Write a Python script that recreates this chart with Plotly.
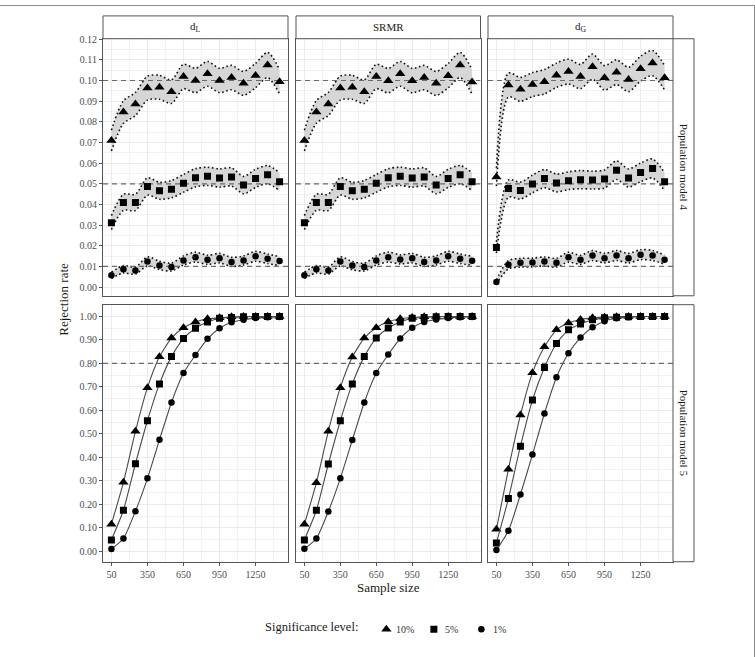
import plotly.graph_objects as go

# ---------------- data ----------------
sample_size = [50, 150, 250, 350, 450, 550, 650, 750, 850, 950, 1050, 1150, 1250, 1350, 1450]
levels = ["10%", "5%", "1%"]
nominal = [0.10, 0.05, 0.01]
power_ref = 0.80
indices = ["d<sub>L</sub>", "SRMR", "d<sub>G</sub>"]
x_ticks = [50, 350, 650, 950, 1250]

# Population model 4 (Type I error rates with confidence bands)
dL_m4_10 = [0.0709, 0.0847, 0.0886, 0.0963, 0.0967, 0.0946, 0.1019, 0.1000, 0.1032, 0.1000, 0.1014, 0.0986, 0.1024, 0.1075, 0.0994]
dL_m4_10_lo = [0.0659, 0.0792, 0.0830, 0.0905, 0.0909, 0.0889, 0.0960, 0.0941, 0.0972, 0.0941, 0.0955, 0.0928, 0.0965, 0.1014, 0.0935]
dL_m4_10_hi = [0.0759, 0.0902, 0.0942, 0.1021, 0.1025, 0.1003, 0.1078, 0.1059, 0.1092, 0.1059, 0.1073, 0.1044, 0.1083, 0.1136, 0.1053]
dL_m4_05 = [0.0312, 0.0410, 0.0410, 0.0487, 0.0466, 0.0474, 0.0502, 0.0529, 0.0536, 0.0528, 0.0533, 0.0494, 0.0526, 0.0544, 0.0510]
dL_m4_05_lo = [0.0278, 0.0371, 0.0371, 0.0445, 0.0425, 0.0432, 0.0459, 0.0485, 0.0492, 0.0484, 0.0489, 0.0452, 0.0482, 0.0500, 0.0467]
dL_m4_05_hi = [0.0346, 0.0449, 0.0449, 0.0529, 0.0507, 0.0516, 0.0545, 0.0573, 0.0580, 0.0572, 0.0577, 0.0536, 0.0570, 0.0588, 0.0553]
dL_m4_01 = [0.0057, 0.0086, 0.0080, 0.0124, 0.0105, 0.0097, 0.0129, 0.0145, 0.0132, 0.0140, 0.0122, 0.0129, 0.0149, 0.0137, 0.0126]
dL_m4_01_lo = [0.0042, 0.0068, 0.0063, 0.0102, 0.0085, 0.0078, 0.0107, 0.0121, 0.0110, 0.0117, 0.0100, 0.0107, 0.0125, 0.0114, 0.0104]
dL_m4_01_hi = [0.0072, 0.0104, 0.0097, 0.0146, 0.0125, 0.0116, 0.0151, 0.0169, 0.0154, 0.0163, 0.0144, 0.0151, 0.0173, 0.0160, 0.0148]

srmr_m4_10 = [0.0709, 0.0848, 0.0886, 0.0963, 0.0967, 0.0946, 0.1019, 0.0999, 0.1032, 0.0999, 0.1014, 0.0986, 0.1023, 0.1075, 0.0993]
srmr_m4_10_lo = [0.0659, 0.0793, 0.0830, 0.0905, 0.0909, 0.0889, 0.0960, 0.0940, 0.0972, 0.0940, 0.0955, 0.0928, 0.0964, 0.1014, 0.0934]
srmr_m4_10_hi = [0.0759, 0.0903, 0.0942, 0.1021, 0.1025, 0.1003, 0.1078, 0.1058, 0.1092, 0.1058, 0.1073, 0.1044, 0.1082, 0.1136, 0.1052]
srmr_m4_05 = [0.0312, 0.0410, 0.0410, 0.0487, 0.0466, 0.0474, 0.0502, 0.0529, 0.0536, 0.0528, 0.0533, 0.0494, 0.0526, 0.0544, 0.0510]
srmr_m4_05_lo = [0.0278, 0.0371, 0.0371, 0.0445, 0.0425, 0.0432, 0.0459, 0.0485, 0.0492, 0.0484, 0.0489, 0.0452, 0.0482, 0.0500, 0.0467]
srmr_m4_05_hi = [0.0346, 0.0449, 0.0449, 0.0529, 0.0507, 0.0516, 0.0545, 0.0573, 0.0580, 0.0572, 0.0577, 0.0536, 0.0570, 0.0588, 0.0553]
srmr_m4_01 = [0.0057, 0.0086, 0.0080, 0.0124, 0.0104, 0.0097, 0.0129, 0.0145, 0.0134, 0.0140, 0.0122, 0.0129, 0.0149, 0.0137, 0.0127]
srmr_m4_01_lo = [0.0042, 0.0068, 0.0063, 0.0102, 0.0084, 0.0078, 0.0107, 0.0121, 0.0112, 0.0117, 0.0100, 0.0107, 0.0125, 0.0114, 0.0105]
srmr_m4_01_hi = [0.0072, 0.0104, 0.0097, 0.0146, 0.0124, 0.0116, 0.0151, 0.0169, 0.0156, 0.0163, 0.0144, 0.0151, 0.0173, 0.0160, 0.0149]

dG_m4_10 = [0.0533, 0.0978, 0.0957, 0.0980, 0.0994, 0.1025, 0.1043, 0.1019, 0.1067, 0.1013, 0.1040, 0.1005, 0.1057, 0.1084, 0.1013]
dG_m4_10_lo = [0.0489, 0.0920, 0.0899, 0.0922, 0.0935, 0.0966, 0.0983, 0.0960, 0.1006, 0.0954, 0.0980, 0.0946, 0.0997, 0.1023, 0.0954]
dG_m4_10_hi = [0.0577, 0.1036, 0.1015, 0.1038, 0.1053, 0.1084, 0.1103, 0.1078, 0.1128, 0.1072, 0.1100, 0.1064, 0.1117, 0.1145, 0.1072]
dG_m4_05 = [0.0192, 0.0477, 0.0467, 0.0499, 0.0525, 0.0504, 0.0515, 0.0520, 0.0518, 0.0523, 0.0566, 0.0528, 0.0555, 0.0574, 0.0510]
dG_m4_05_lo = [0.0165, 0.0435, 0.0426, 0.0456, 0.0481, 0.0461, 0.0472, 0.0476, 0.0475, 0.0479, 0.0521, 0.0484, 0.0510, 0.0528, 0.0467]
dG_m4_05_hi = [0.0219, 0.0519, 0.0508, 0.0542, 0.0569, 0.0547, 0.0558, 0.0564, 0.0561, 0.0567, 0.0611, 0.0572, 0.0600, 0.0620, 0.0553]
dG_m4_01 = [0.0025, 0.0108, 0.0118, 0.0119, 0.0124, 0.0118, 0.0145, 0.0132, 0.0153, 0.0140, 0.0153, 0.0140, 0.0157, 0.0153, 0.0132]
dG_m4_01_lo = [0.0015, 0.0088, 0.0097, 0.0098, 0.0102, 0.0097, 0.0121, 0.0110, 0.0129, 0.0117, 0.0129, 0.0117, 0.0133, 0.0129, 0.0110]
dG_m4_01_hi = [0.0035, 0.0128, 0.0139, 0.0140, 0.0146, 0.0139, 0.0169, 0.0154, 0.0177, 0.0163, 0.0177, 0.0163, 0.0181, 0.0177, 0.0154]

# Population model 5 (power)
dL_m5_10 = [0.116, 0.294, 0.511, 0.697, 0.828, 0.908, 0.952, 0.976, 0.990, 0.994, 0.999, 1.000, 1.000, 1.000, 1.000]
dL_m5_05 = [0.049, 0.175, 0.373, 0.556, 0.713, 0.829, 0.906, 0.950, 0.976, 0.992, 0.996, 0.999, 1.000, 1.000, 1.000]
dL_m5_01 = [0.010, 0.055, 0.171, 0.311, 0.475, 0.634, 0.759, 0.836, 0.905, 0.950, 0.975, 0.986, 0.993, 0.997, 0.998]
srmr_m5_10 = [0.116, 0.292, 0.511, 0.697, 0.827, 0.908, 0.952, 0.977, 0.990, 0.995, 0.999, 1.000, 1.000, 1.000, 1.000]
srmr_m5_05 = [0.049, 0.175, 0.372, 0.556, 0.713, 0.829, 0.908, 0.951, 0.976, 0.992, 0.996, 0.999, 1.000, 1.000, 1.000]
srmr_m5_01 = [0.011, 0.055, 0.170, 0.311, 0.474, 0.634, 0.759, 0.838, 0.906, 0.952, 0.976, 0.987, 0.993, 0.997, 0.998]
dG_m5_10 = [0.094, 0.350, 0.580, 0.760, 0.871, 0.943, 0.972, 0.987, 0.994, 0.997, 0.999, 1.000, 1.000, 1.000, 1.000]
dG_m5_05 = [0.036, 0.225, 0.448, 0.644, 0.783, 0.885, 0.943, 0.968, 0.986, 0.994, 0.997, 0.999, 1.000, 1.000, 1.000]
dG_m5_01 = [0.006, 0.088, 0.242, 0.412, 0.587, 0.741, 0.843, 0.910, 0.954, 0.980, 0.992, 0.997, 0.999, 1.000, 1.000]

m4 = [
    [(dL_m4_10, dL_m4_10_lo, dL_m4_10_hi), (dL_m4_05, dL_m4_05_lo, dL_m4_05_hi), (dL_m4_01, dL_m4_01_lo, dL_m4_01_hi)],
    [(srmr_m4_10, srmr_m4_10_lo, srmr_m4_10_hi), (srmr_m4_05, srmr_m4_05_lo, srmr_m4_05_hi), (srmr_m4_01, srmr_m4_01_lo, srmr_m4_01_hi)],
    [(dG_m4_10, dG_m4_10_lo, dG_m4_10_hi), (dG_m4_05, dG_m4_05_lo, dG_m4_05_hi), (dG_m4_01, dG_m4_01_lo, dG_m4_01_hi)],
]
m5 = [
    [dL_m5_10, dL_m5_05, dL_m5_01],
    [srmr_m5_10, srmr_m5_05, srmr_m5_01],
    [dG_m5_10, dG_m5_05, dG_m5_01],
]

# ---------------- style / layout ----------------
W, H = 755, 657
FONT = "Liberation Serif"
symbols = ["triangle-up", "square", "circle"]
msizes = [9, 7, 6.5]
cols_px = [(103, 288), (296, 480.5), (488, 673)]
rows_px = [(34, 293), (302, 561)]
x_range = [-20, 1520]
y_ranges = [[-0.0042, 0.1202], [-0.044, 1.05]]
legend_label_px = [394, 443, 491]


def px(x):
    return x / W


def py(y):
    return 1 - y / H


fig = go.Figure()


def ax_names(r, c):
    k = r * 3 + c + 1
    return ("x" if k == 1 else f"x{k}"), ("y" if k == 1 else f"y{k}")


for c in range(3):
    # top row: bands + markers
    xa, ya = ax_names(0, c)
    for li, (vals, lo, hi) in enumerate(m4[c]):
        fig.add_trace(go.Scatter(x=sample_size, y=lo, mode="lines", xaxis=xa, yaxis=ya,
                                 line=dict(color="#111", width=1.6, dash="1.6px,2.6px", shape="spline", smoothing=0.8),
                                 showlegend=False, hoverinfo="skip"))
        fig.add_trace(go.Scatter(x=sample_size, y=hi, mode="lines", xaxis=xa, yaxis=ya, fill="tonexty",
                                 fillcolor="#D6D6D6",
                                 line=dict(color="#111", width=1.6, dash="1.6px,2.6px", shape="spline", smoothing=0.8),
                                 showlegend=False, hoverinfo="skip"))
    for lvl in nominal:
        fig.add_trace(go.Scatter(x=x_range, y=[lvl, lvl], mode="lines", xaxis=xa, yaxis=ya,
                                 line=dict(color="#6b6b6b", width=1.2, dash="5px,4px"),
                                 showlegend=False, hoverinfo="skip"))
    for li, (vals, lo, hi) in enumerate(m4[c]):
        fig.add_trace(go.Scatter(x=sample_size, y=vals, mode="markers", xaxis=xa, yaxis=ya,
                                 marker=dict(symbol=symbols[li], size=msizes[li], color="black"),
                                 name=" ", showlegend=(c == 0), legendgroup=levels[li],
                                 hovertemplate=levels[li] + ": %{y}<extra></extra>"))
    # bottom row: power curves
    xa, ya = ax_names(1, c)
    fig.add_trace(go.Scatter(x=x_range, y=[power_ref, power_ref], mode="lines", xaxis=xa, yaxis=ya,
                             line=dict(color="#6b6b6b", width=1.2, dash="5px,4px"),
                             showlegend=False, hoverinfo="skip"))
    for li, vals in enumerate(m5[c]):
        fig.add_trace(go.Scatter(x=sample_size, y=vals, mode="lines+markers", xaxis=xa, yaxis=ya,
                                 line=dict(color="#4a4a4a", width=1.1, shape="spline", smoothing=0.6),
                                 marker=dict(symbol=symbols[li], size=msizes[li], color="black"),
                                 name=levels[li], showlegend=False, legendgroup=levels[li]))

layout = dict(
    width=W, height=H,
    margin=dict(l=0, r=0, t=0, b=0),
    paper_bgcolor="white", plot_bgcolor="white",
    font=dict(family=FONT, color="#1a1a1a"),
    showlegend=True,
    legend=dict(orientation="h", x=px(263), xanchor="left", y=py(629), yanchor="middle",
                title=dict(text="Significance level:", font=dict(size=12.5, family=FONT, color="#1a1a1a"), side="left"),
                font=dict(size=10, family=FONT, color="#333"),
                itemwidth=30, bgcolor="rgba(0,0,0,0)", tracegroupgap=0),
)

for r in range(2):
    for c in range(3):
        k = r * 3 + c + 1
        xkey = "xaxis" if k == 1 else f"xaxis{k}"
        ykey = "yaxis" if k == 1 else f"yaxis{k}"
        x0, x1 = cols_px[c]
        y0, y1 = rows_px[r]
        show_x = r == 1
        show_y = c == 0
        layout[xkey] = dict(
            domain=[px(x0), px(x1)], range=x_range, anchor=ax_names(r, c)[1],
            tickmode="array", tickvals=x_ticks, showticklabels=show_x,
            ticks="outside" if show_x else "", ticklen=3, tickcolor="#555", tickwidth=1,
            tickfont=dict(size=10, color="#4d4d4d", family=FONT),
            showgrid=True, gridcolor="#EBEBEB", gridwidth=1,
            minor=dict(tick0=50, dtick=150, showgrid=True, gridcolor="#F2F2F2", gridwidth=0.6),
            showline=True, mirror=True, linecolor="#555", linewidth=1, zeroline=False,
        )
        ydt, ymdt = (0.01, 0.005) if r == 0 else (0.1, 0.05)
        layout[ykey] = dict(
            domain=[py(y1), py(y0)], range=y_ranges[r], anchor=ax_names(r, c)[0],
            tick0=0, dtick=ydt, tickformat=".2f", showticklabels=show_y,
            ticks="outside" if show_y else "", ticklen=3, tickcolor="#555", tickwidth=1,
            tickfont=dict(size=10, color="#4d4d4d", family=FONT),
            showgrid=True, gridcolor="#EBEBEB", gridwidth=1,
            minor=dict(tick0=0, dtick=ymdt, showgrid=True, gridcolor="#F2F2F2", gridwidth=0.6),
            showline=True, mirror=True, linecolor="#555", linewidth=1, zeroline=False,
        )

shapes = []
annotations = []
# top strips
for c, lab in enumerate(indices):
    x0, x1 = cols_px[c]
    shapes.append(dict(type="rect", xref="paper", yref="paper", x0=px(x0), x1=px(x1), y0=py(34), y1=py(11),
                       fillcolor="white", line=dict(color="#555", width=1)))
    annotations.append(dict(text=lab, xref="paper", yref="paper", x=px((x0 + x1) / 2), y=py(22.5),
                            showarrow=False, font=dict(size=11, family=FONT, color="#1a1a1a"),
                            xanchor="center", yanchor="middle"))
# right strips
for r, lab in enumerate(["Population model 4", "Population model 5"]):
    y0, y1 = rows_px[r]
    shapes.append(dict(type="rect", xref="paper", yref="paper", x0=px(673), x1=px(694), y0=py(y1), y1=py(y0),
                       fillcolor="white", line=dict(color="#555", width=1)))
    annotations.append(dict(text=lab, xref="paper", yref="paper", x=px(683.5), y=py((y0 + y1) / 2),
                            showarrow=False, textangle=90, font=dict(size=11, family=FONT, color="#1a1a1a"),
                            xanchor="center", yanchor="middle"))
# legend labels placed next to the legend symbols
for lab, lx in zip(levels, legend_label_px):
    annotations.append(dict(text=lab, xref="paper", yref="paper", x=px(lx), y=py(629.5),
                            showarrow=False, font=dict(size=10, family=FONT, color="#333"),
                            xanchor="left", yanchor="middle"))
# axis titles
annotations.append(dict(text="Rejection rate", xref="paper", yref="paper", x=px(64), y=py(297),
                        showarrow=False, textangle=-90, font=dict(size=13, family=FONT, color="#1a1a1a"),
                        xanchor="center", yanchor="middle"))
annotations.append(dict(text="Sample size", xref="paper", yref="paper", x=px(388), y=py(587),
                        showarrow=False, font=dict(size=13, family=FONT, color="#1a1a1a"),
                        xanchor="center", yanchor="middle"))
# outer frame (top and right edges)
shapes.append(dict(type="line", xref="paper", yref="paper", x0=0, x1=1, y0=py(0.5), y1=py(0.5),
                   line=dict(color="#8a8a8a", width=1)))
shapes.append(dict(type="line", xref="paper", yref="paper", x0=px(754.5), x1=px(754.5), y0=0, y1=1,
                   line=dict(color="#8a8a8a", width=1)))

layout["shapes"] = shapes
layout["annotations"] = annotations
fig.update_layout(**layout)

fig.write_html("out.html")
